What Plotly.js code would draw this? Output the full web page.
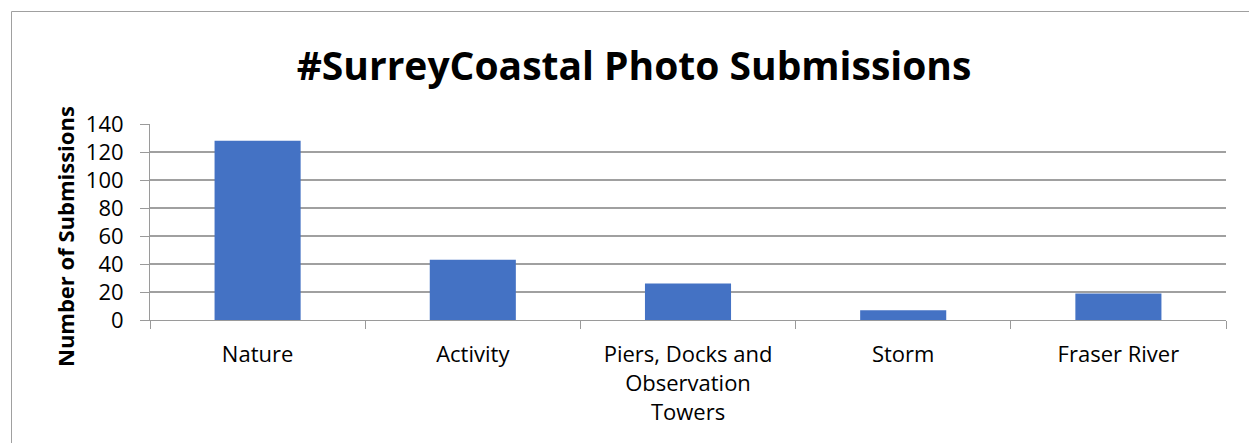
<!DOCTYPE html>
<html>
<head>
<meta charset="utf-8">
<script src="https://cdn.plot.ly/plotly-3.0.1.min.js"></script>
<style>
html,body{margin:0;padding:0;background:#fff;overflow:hidden;}
#chart{width:1249px;height:443px;}
</style>
</head>
<body>
<div id="chart"></div>
<script>
const categories = ["Nature", "Activity", "Piers, Docks and<br>Observation<br>Towers", "Storm", "Fraser River"];
const submissions = [128, 43, 26, 7, 19];
const yTicks = [0, 20, 40, 60, 80, 100, 120, 140];

const FONT = "'Open Sans', Lato, sans-serif";
const W = 1249, H = 443;
const L = 150, R = 23, T = 124, B = 123;
const pw = W - L - R, ph = H - T - B;
const px = v => (v - L) / pw;
const py = v => (H - B - v) / ph;

const trace = {
  type: "bar",
  x: categories,
  y: submissions,
  marker: {color: "#4472C4", line: {width: 0}},
  hoverinfo: "x+y"
};

const layout = {
  width: W, height: H,
  margin: {l: L, r: R, t: T, b: B, pad: 0},
  paper_bgcolor: "#ffffff",
  plot_bgcolor: "#ffffff",
  showlegend: false,
  bargap: 0.6,
  font: {family: FONT, color: "#000000", size: 22},
  title: {
    text: "<b>#SurreyCoastal Photo Submissions</b>",
    font: {family: FONT, size: 39, color: "#000000"},
    x: 634 / W, xanchor: "center",
    y: 1 - 66 / H, yanchor: "middle"
  },
  xaxis: {
    type: "category",
    tickson: "boundaries",
    ticks: "outside",
    ticklen: 8,
    tickcolor: "#9a9a9a",
    tickwidth: 1,
    showline: true,
    linecolor: "#9a9a9a",
    linewidth: 1,
    showgrid: false,
    tickfont: {family: FONT, size: 22, color: "#000000"},
    ticklabelstandoff: 15,
    automargin: false,
    fixedrange: true
  },
  yaxis: {
    range: [0, 140],
    tickmode: "array",
    tickvals: yTicks,
    ticktext: yTicks.map(String),
    ticks: "outside",
    ticklen: 9,
    tickcolor: "#9a9a9a",
    showline: true,
    linecolor: "#9a9a9a",
    linewidth: 1,
    showgrid: true,
    gridcolor: "#a0a0a0",
    gridwidth: 1.2,
    zeroline: false,
    tickfont: {family: FONT, size: 22, color: "#000000"},
    ticklabelstandoff: 12,
    automargin: false,
    fixedrange: true
  },
  annotations: [{
    text: "<b>Number of Submissions</b>",
    xref: "paper", yref: "paper",
    x: px(65), y: py(237),
    xanchor: "center", yanchor: "middle",
    textangle: -90,
    showarrow: false,
    font: {family: FONT, size: 22, color: "#000000"}
  }],
  shapes: [
    {type: "line", xref: "paper", yref: "paper",
     x0: px(11.5), x1: px(11.5), y0: py(11.5), y1: py(460),
     line: {color: "#a0a0a0", width: 1}, layer: "below"},
    {type: "line", xref: "paper", yref: "paper",
     x0: px(11.5), x1: px(1300), y0: py(11.5), y1: py(11.5),
     line: {color: "#a0a0a0", width: 1}, layer: "below"}
  ]
};

Plotly.newPlot("chart", [trace], layout, {displayModeBar: false, staticPlot: true});
</script>
</body>
</html>
